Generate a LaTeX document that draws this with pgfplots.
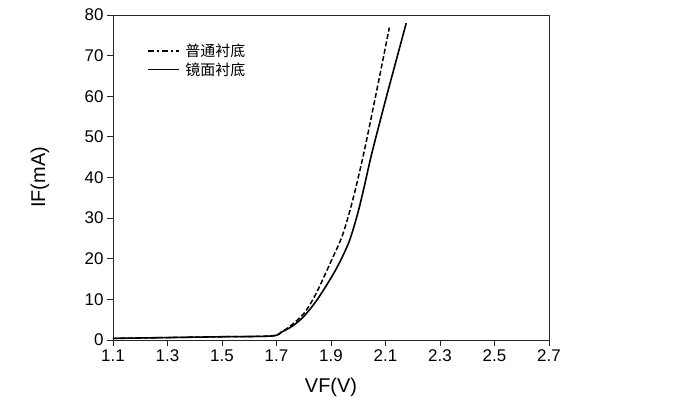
\documentclass[border=0pt]{standalone}
\usepackage{pgfplots}
\pgfplotsset{compat=1.18}
\usepackage{fontspec}
\setmainfont{Liberation Sans}
\newfontfamily\cjk{Noto Sans CJK SC}
\begin{document}
\begin{tikzpicture}
\useasboundingbox (-113bp,-63bp) rectangle (578bp,340bp);
\begin{axis}[
  at={(0,0)}, anchor=south west,
  width=436bp, height=325bp, scale only axis,
  xmin=1.1, xmax=2.7, ymin=0, ymax=80,
  xtick={1.1,1.3,...,2.7},
  ytick={0,10,...,80},
  xticklabels={1.1,1.3,1.5,1.7,1.9,2.1,2.3,2.5,2.7},
  tick pos=left, tick align=outside,
  major tick length=6bp,
  /pgf/number format/assume math mode=true,
  tick label style={font=\fontsize{17}{20}\selectfont},
  label style={font=\fontsize{20}{24}\selectfont},
  xlabel={VF(V)}, ylabel={IF(mA)},
  xlabel style={at={(axis description cs:0.5,0)}, anchor=center, yshift=-47bp},
  ylabel style={at={(axis description cs:0,0.5)}, anchor=center, yshift=73bp},
  axis line style={line width=1pt, black!85},
  every tick/.style={black!85, line width=0.8pt},
  legend style={draw=none, fill=none, at={(axis description cs:0.07,0.925)}, anchor=north west,
    font=\cjk\fontsize{15}{17}\selectfont, row sep=1bp},
  legend cell align=left,
  legend image code/.code={\draw[#1] (0bp,0bp) -- (31bp,0bp); \path (35bp,0bp);},
]
\addlegendimage{black, line width=1.8pt, dash pattern=on 6bp off 3bp on 2bp off 3bp}
\addlegendentry{普通衬底}
\addlegendimage{black, line width=1.2pt}
\addlegendentry{镜面衬底}
\addplot[black, line width=1.5pt, dash pattern=on 5bp off 2.5bp, smooth, tension=0.5, forget plot] coordinates {
(1.10,0.4) (1.30,0.6) (1.50,0.8) (1.683,1.0) (1.72,2.1) (1.75,3.4) (1.80,6.5) (1.842,11.0)
(1.897,18.9) (1.940,25.4) (1.970,32.0) (1.995,38.6) (2.023,46.8) (2.056,57.5) (2.09,68.8) (2.114,76.9)
};
\addplot[black, line width=1.6pt, smooth, tension=0.5, forget plot] coordinates {
(1.10,0.4) (1.30,0.6) (1.50,0.8) (1.683,1.0) (1.72,2.0) (1.76,3.5) (1.80,5.8) (1.85,10.0)
(1.915,17.0) (1.964,23.8) (1.995,30.4) (2.019,36.9) (2.05,46.0) (2.10,59.0) (2.14,69.0) (2.176,78.0)
};
\end{axis}
\end{tikzpicture}
\end{document}
